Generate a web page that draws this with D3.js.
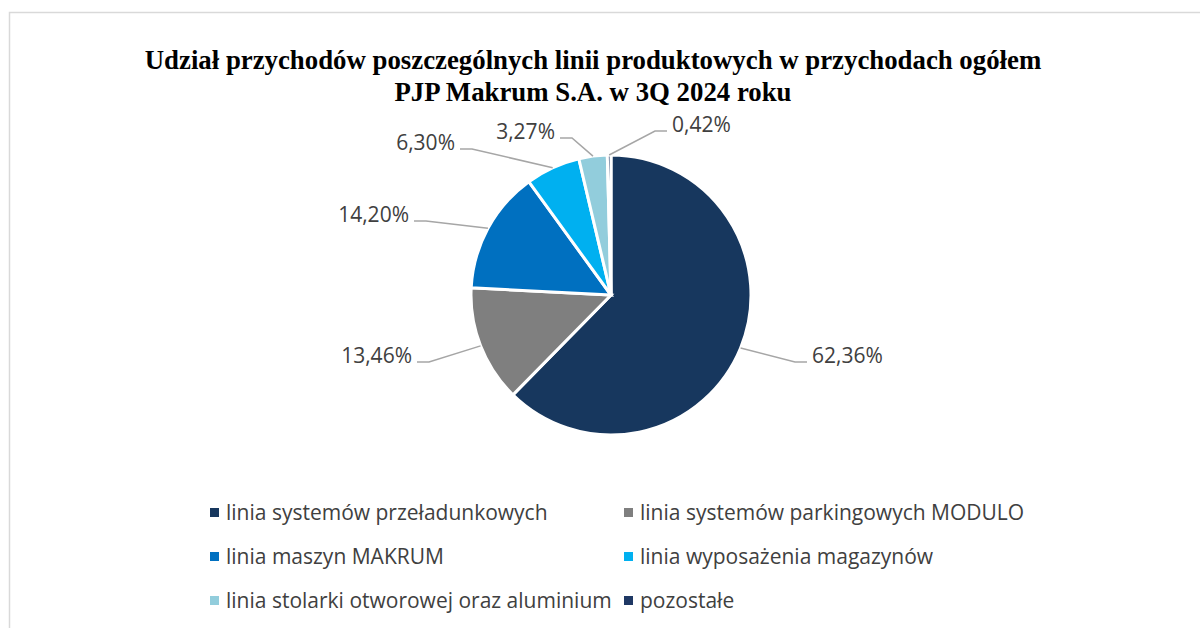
<html>
<head>
<meta charset="UTF-8">
<script src="https://d3js.org/d3.v7.min.js"></script>
<style>
  body { margin: 0; background: #fff; }
  svg { display: block; }
</style>
</head>
<body>
<svg id="chart" width="1200" height="628"></svg>
<script>
// data
const categories = [
  "linia systemów przeładunkowych",
  "linia systemów parkingowych MODULO",
  "linia maszyn MAKRUM",
  "linia wyposażenia magazynów",
  "linia stolarki otworowej oraz aluminium",
  "pozostałe"
];
const shares = [62.36, 13.46, 14.20, 6.30, 3.27, 0.42];
const valueLabels = ["62,36%", "13,46%", "14,20%", "6,30%", "3,27%", "0,42%"];
const colors = ["#17375e", "#7f7f7f", "#0070c0", "#00b0f0", "#92cddc", "#1f3864"];
const titleLines = [
  "Udział przychodów poszczególnych linii produktowych w przychodach ogółem",
  "PJP Makrum S.A. w 3Q 2024 roku"
];

// layout
const svg = d3.select("#chart");
const cx = 611, cy = 295, radius = 140;
// where each data label sits, relative to the pie centre (x, baseline, side)
const labelSpots = [
  [201, 68, 1], [-199, 68, -1], [-202, -73, -1],
  [-156, -145, -1], [-56, -156, -1], [61, -163, 1]
];

// frame
svg.append("path")
  .attr("d", "M9.5,628 L9.5,12.5 L1200,12.5")
  .attr("fill", "none")
  .attr("stroke", "#d9d9d9")
  .attr("stroke-width", 1.5);

// title
svg.append("g").selectAll("text")
  .data(titleLines)
  .join("text")
  .attr("x", 593)
  .attr("y", (d, i) => 69 + i * 32)
  .attr("text-anchor", "middle")
  .attr("font-family", "'Liberation Serif', 'Times New Roman', serif")
  .attr("font-weight", "bold")
  .attr("font-size", 26.8)
  .attr("fill", "#000")
  .text(d => d);

// pie
const pie = d3.pie().sort(null).value(d => d);
const arcs = pie(shares);
const arc = d3.arc().innerRadius(0).outerRadius(radius);

const g = svg.append("g").attr("transform", `translate(${cx},${cy})`);

g.selectAll("path.slice")
  .data(arcs)
  .join("path")
  .attr("class", "slice")
  .attr("d", arc)
  .attr("fill", (d, i) => colors[i])
  .attr("stroke", "#fff")
  .attr("stroke-width", 3)
  .attr("stroke-linejoin", "miter");

// leader lines + labels
arcs.forEach((d, i) => {
  const mid = (d.startAngle + d.endAngle) / 2;
  const px = radius * Math.sin(mid), py = -radius * Math.cos(mid);
  const [lx, ly, side] = labelSpots[i];
  const lineY = ly - 1;
  const pts = [[px, py], [lx - side * 17, lineY], [lx - side * 5, lineY]];
  g.append("path")
    .attr("d", d3.line()(pts))
    .attr("fill", "none")
    .attr("stroke", "#a6a6a6")
    .attr("stroke-width", 1.5);
  g.append("text")
    .attr("x", lx)
    .attr("y", ly)
    .attr("text-anchor", side > 0 ? "start" : "end")
    .attr("font-family", "'Open Sans', sans-serif")
    .attr("font-size", 21)
    .attr("fill", "#404040")
    .text(valueLabels[i]);
});

// legend
const legend = svg.append("g");
const colX = [210, 624], rowY = [520, 564, 608];
categories.forEach((c, i) => {
  const x = colX[i % 2], y = rowY[Math.floor(i / 2)];
  legend.append("rect")
    .attr("x", x)
    .attr("y", y - 12)
    .attr("width", 9)
    .attr("height", 9)
    .attr("fill", colors[i]);
  legend.append("text")
    .attr("x", x + 16)
    .attr("y", y)
    .attr("font-family", "'Open Sans', sans-serif")
    .attr("font-size", 21)
    .attr("fill", "#404040")
    .text(c);
});
</script>
</body>
</html>
